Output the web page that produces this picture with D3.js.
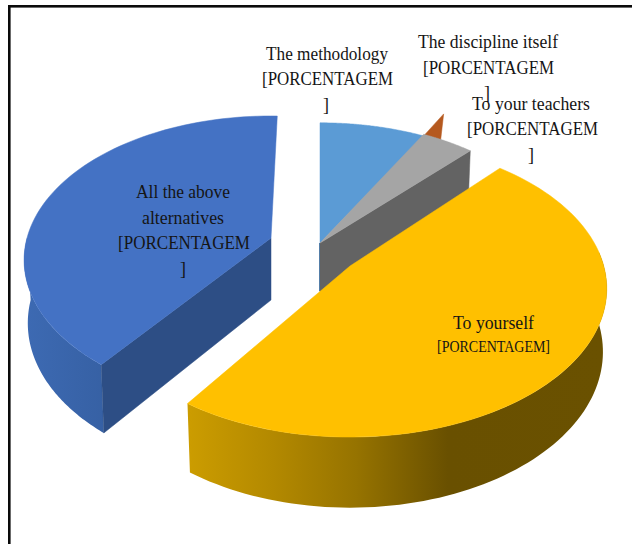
<!DOCTYPE html>
<html><head><meta charset="utf-8">
<script src="https://cdn.jsdelivr.net/npm/d3@7"></script>
<style>html,body{margin:0;padding:0;background:#fff}svg{display:block}text{font-family:"Liberation Serif",serif;fill:#151515}</style>
</head><body><svg id="c" width="632" height="544"></svg>
<script>
const sliceKeys = ["methodology","teachers","yourself","above"];
const sliceValues = [8,4,48,40];
const disciplineValue = [1.4];
const topColors = ["#5b9bd5","#a5a5a5","#ffc000","#4472c4"];
const W=632,H=544, TAU=2*Math.PI;
const svg=d3.select("#c");
svg.append("rect").attr("width",W).attr("height",H).attr("fill","#fff");

// perspective projection of the tilted disc
const Rx=244,Ry=140.7,K=0.153,BX=0.985,BY=1.05,DEPTH=62;
function proj(theta){const u=Math.sin(theta),v=-Math.cos(theta),w=1-K*v;return [Rx*u/w,Ry*v/w];}
// a = [apex x, apex y, x scale, y scale]
const topPt=(a,t)=>{const p=proj(t);return [a[0]+p[0]*a[2],a[1]+p[1]*a[3]]};
const botPt=(a,t)=>{const p=proj(t);return [a[0]+p[0]*a[2]*BX,a[1]+p[1]*a[3]*BY+DEPTH]};
const line=d3.line();

const angle=d3.scaleLinear([0,100],[0,TAU]);
const ends=Array.from(d3.cumsum(sliceValues));
const deg=Math.PI/180;
const apex={methodology:[320,243,1,0.985],teachers:[320,243,1,1],yourself:[350,266,1.04,1.03],above:[271,238,1,1]};
const rotation={methodology:0,teachers:0,yourself:-2*deg,above:1.7*deg};
const slices=sliceValues.map((v,i)=>({key:sliceKeys[i],a:apex[sliceKeys[i]],s:angle(ends[i]-v)+rotation[sliceKeys[i]],e:angle(ends[i])+rotation[sliceKeys[i]],color:topColors[i]}));
const byKey=Object.fromEntries(slices.map(s=>[s.key,s]));
const samples=(s,e,n=80)=>d3.range(n+1).map(i=>s+(e-s)*i/n);
const xy=a=>[a[0],a[1]];
const face=(a,s,e)=>[xy(a),...samples(s,e).map(t=>topPt(a,t))];
const outerWall=(a,s,e)=>[...samples(s,e).map(t=>topPt(a,t)),...samples(s,e).reverse().map(t=>botPt(a,t))];
const radialWall=(a,t)=>[xy(a),topPt(a,t),botPt(a,t),[a[0],a[1]+DEPTH]];

const defs=svg.append("defs");
function grad(id,x1,x2,stops){const g=defs.append("linearGradient").attr("id",id).attr("gradientUnits","userSpaceOnUse").attr("x1",x1).attr("x2",x2).attr("y1",0).attr("y2",0);
 stops.forEach(s=>g.append("stop").attr("offset",s[0]).attr("stop-color",s[1]));}
grad("gy",190,606,[[0,"#cb9c00"],[0.2,"#b38900"],[0.4,"#967300"],[0.62,"#695000"],[1,"#6a5100"]]);
grad("gb",24,110,[[0,"#3d6ab3"],[1,"#3660a3"]]);
const path=(pts,fill,stroke)=>svg.append("path").attr("d",line(pts)+"Z").attr("fill",fill).attr("stroke",stroke||fill).attr("stroke-width",0.5);

// discipline itself: small orange wedge pushed out behind the gray slice
const m=byKey.methodology, dSpan=angle(disciplineValue[0]);
const d0=topPt(m.a,m.e), d1=topPt(m.a,m.e+dSpan);
path([d0,[d0[0]+20,d0[1]-22],d1],"#b5591f");

// methodology
path(face(m.a,m.s,m.e),m.color);
// teachers: wall, then top
const g=byKey.teachers;
svg.append("rect").attr("x",g.a[0]-1).attr("y",g.a[1]).attr("width",1.6).attr("height",DEPTH-14).attr("fill","#4f86bf");
path([xy(g.a),topPt(g.a,g.e),botPt(g.a,g.e),[g.a[0],g.a[1]+DEPTH]],"#636363");
path(face(g.a,g.s,g.e),g.color);

// all the above
const b=byKey.above;
path(outerWall(b.a,b.s,Math.PI*1.5),"url(#gb)","none");
path(radialWall(b.a,b.s),"#2d4e85");
path(face(b.a,b.s,b.e),b.color);

// yourself
const y=byKey.yourself;
path(outerWall(y.a,Math.PI*0.47,y.e),"url(#gy)","none");
path(face(y.a,y.s,y.e),y.color);

// labels: [text, left, right, baseline, size]
const labelText=[
["The methodology",266,388,60,19],["[PORCENTAGEM",262,393,85,19],["]",323,329,111,19],
["The discipline itself",418,558,48,19],["[PORCENTAGEM",423,554,74,19],["]",484,490,99,19],
["To your teachers",472,590,110,19],["[PORCENTAGEM",467,598,135,19],["]",528,534,161,19],
["All the above",136,230,198,19],["alternatives",142,224,224,19],["[PORCENTAGEM",118,250,249,19],["]",180,186,275,19],
["To yourself",453,534,329,19],["[PORCENTAGEM]",437,550,352,17]];
svg.selectAll("text.l").data(labelText).join("text").attr("class","l")
 .attr("x",d=>d[1]).attr("y",d=>d[3]).attr("font-size",d=>d[4])
 .attr("textLength",d=>d[2]-d[1]).attr("lengthAdjust","spacingAndGlyphs").text(d=>d[0]);

// frame
svg.append("rect").attr("x",8).attr("y",5).attr("width",W).attr("height",2.6).attr("fill","#0a0a0a");
svg.append("rect").attr("x",8).attr("y",5).attr("width",2.6).attr("height",H).attr("fill","#0a0a0a");
</script></body></html>
